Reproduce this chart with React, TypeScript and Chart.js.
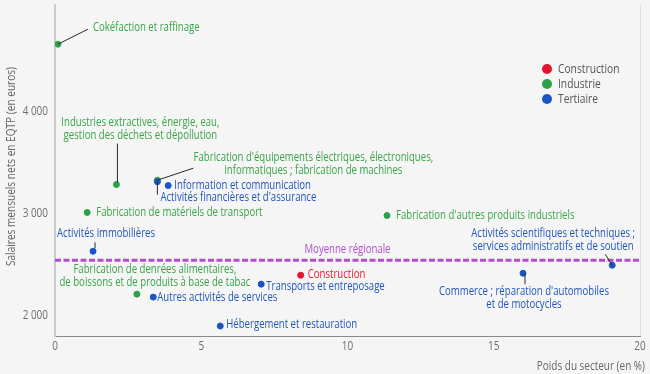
import React, { useEffect, useRef } from "react";
import { Chart, registerables } from "chart.js";

Chart.register(...registerables);

// ---- Data ----
const constructionNames = ["Construction"];
const constructionWeight = [8.4];
const constructionSalary = [2397];

const industrieNames = [
  "Cokéfaction et raffinage",
  "Industries extractives, énergie, eau,\ngestion des déchets et dépollution",
  "Fabrication d'équipements électriques, électroniques,\ninformatiques ; fabrication de machines",
  "Fabrication de matériels de transport",
  "Fabrication de denrées alimentaires,\nde boissons et de produits à base de tabac",
  "Fabrication d'autres produits industriels",
];
const industrieWeight = [0.1, 2.1, 3.5, 1.1, 2.8, 11.35];
const industrieSalary = [4665, 3287, 3330, 3013, 2211, 2983];

const tertiaireNames = [
  "Activités financières et d'assurance",
  "Information et communication",
  "Activités immobilières",
  "Autres activités de services",
  "Hébergement et restauration",
  "Transports et entreposage",
  "Commerce ; réparation d'automobiles\net de motocycles",
  "Activités scientifiques et techniques ;\nservices administratifs et de soutien",
];
const tertiaireWeight = [3.5, 3.87, 1.3, 3.36, 5.65, 7.05, 16.0, 19.05];
const tertiaireSalary = [3315, 3277, 2632, 2182, 1898, 2309, 2416, 2495];

const regionalMean = 2543;
const meanLabel = "Moyenne régionale";
const xTickValues = [0, 5, 10, 15, 20];
const yLabelValues = [2000, 3000, 4000];
const xTitle = "Poids du secteur (en %)";
const yTitle = "Salaires mensuels nets en EQTP (en euros)";
const seriesNames = ["Construction", "Industrie", "Tertiaire"];

// ---- Styles ----
const RED = "#e6132c";
const GREEN = "#2ba24a";
const BLUE = "#1b55c4";
const PURPLE = "#b44ccb";
const TEXT_GREEN = "#39a447";
const TEXT_BLUE = "#2155bd";
const TEXT_RED = "#e8192f";
const GREY_TEXT = "#666666";
const FONT = '"Open Sans", sans-serif';
const SX = 0.8;

type Layout = {
  dx: number;
  dy: number;
  align: "left" | "center" | "right";
  leader?: [number, number, number, number];
};

const labelLayout: Record<string, Layout> = {
  "Cokéfaction et raffinage": { dx: 35, dy: -17, align: "left", leader: [0, 0, 30, -15] },
  "Industries extractives, énergie, eau,\ngestion des déchets et dépollution": {
    dx: 24, dy: -62, align: "center", leader: [1, -2, 1, -41],
  },
  "Fabrication d'équipements électriques, électroniques,\ninformatiques ; fabrication de machines": {
    dx: 156, dy: -23, align: "center", leader: [0, 0, 36, -12],
  },
  "Fabrication de matériels de transport": { dx: 9, dy: 0, align: "left" },
  "Fabrication de denrées alimentaires,\nde boissons et de produits à base de tabac": {
    dx: 18, dy: -25, align: "center",
  },
  "Fabrication d'autres produits industriels": { dx: 9, dy: 0, align: "left" },
  "Activités financières et d'assurance": { dx: 3, dy: 16, align: "left", leader: [0, 0, 0, 13] },
  "Information et communication": { dx: 6, dy: 0, align: "left" },
  "Activités immobilières": { dx: 13, dy: -18, align: "center", leader: [2, -9, 2, -3] },
  "Autres activités de services": { dx: 4, dy: 0, align: "left" },
  "Hébergement et restauration": { dx: 6, dy: -1, align: "left" },
  "Transports et entreposage": { dx: 5, dy: 2, align: "left" },
  "Commerce ; réparation d'automobiles\net de motocycles": {
    dx: 1, dy: 18, align: "center", leader: [2, 0, 2, 11],
  },
  "Activités scientifiques et techniques ;\nservices administratifs et de soutien": {
    dx: -59, dy: -32, align: "center", leader: [-7, -11, 0, 0],
  },
  Construction: { dx: 7, dy: -1, align: "left" },
};

function drawText(
  ctx: CanvasRenderingContext2D,
  text: string,
  x: number,
  y: number,
  align: "left" | "center" | "right",
  color: string,
  size = 12,
  sx = SX
) {
  ctx.save();
  ctx.font = `${size}px ${FONT}`;
  ctx.fillStyle = color;
  ctx.textBaseline = "middle";
  ctx.textAlign = "left";
  const w = ctx.measureText(text).width * sx;
  const left = align === "left" ? x : align === "center" ? x - w / 2 : x - w;
  ctx.translate(left, y);
  ctx.scale(sx, 1);
  ctx.fillText(text, 0, 0);
  ctx.restore();
}

const makePoints = (xs: number[], ys: number[]) => xs.map((x, i) => ({ x, y: ys[i] }));

export default function App() {
  const ref = useRef<HTMLCanvasElement | null>(null);

  useEffect(() => {
    document.body.style.margin = "0";
    const canvas = ref.current!;
    const groups = [
      { names: constructionNames, color: TEXT_RED, ds: 0 },
      { names: industrieNames, color: TEXT_GREEN, ds: 1 },
      { names: tertiaireNames, color: TEXT_BLUE, ds: 2 },
    ];

    const bgPlugin = {
      id: "bg",
      beforeDraw(chart: any) {
        const ctx = chart.ctx;
        ctx.save();
        ctx.fillStyle = "#f5f5f5";
        ctx.fillRect(0, 0, chart.width, chart.height);
        ctx.restore();
      },
    };

    const textPlugin = {
      id: "texts",
      afterDraw(chart: any) {
        const ctx: CanvasRenderingContext2D = chart.ctx;
        const xs = chart.scales.x;
        const ys = chart.scales.y;
        const area = chart.chartArea;

        // y tick labels
        yLabelValues.forEach((v) => {
          drawText(ctx, v.toLocaleString("fr-FR").replace(/\s/g, " "), area.left - 7, ys.getPixelForValue(v), "right", "#6e6e6e", 12, 0.83);
        });
        // x tick labels
        xTickValues.forEach((v) => {
          drawText(ctx, String(v), xs.getPixelForValue(v), area.bottom + 11, "center", "#6e6e6e", 12, 0.83);
        });
        // axis titles
        drawText(ctx, xTitle, area.right + 5, area.bottom + 31, "right", GREY_TEXT, 12, 0.83);
        ctx.save();
        ctx.translate(12, (area.top + area.bottom) / 2 - 4);
        ctx.rotate(-Math.PI / 2);
        drawText(ctx, yTitle, 0, 0, "center", GREY_TEXT, 12, 0.84);
        ctx.restore();

        // mean label
        drawText(ctx, meanLabel, xs.getPixelForValue(10), ys.getPixelForValue(regionalMean) - 11, "center", PURPLE);

        // point labels
        groups.forEach((g) => {
          const meta = chart.getDatasetMeta(g.ds);
          g.names.forEach((name, i) => {
            const el = meta.data[i];
            const lay = labelLayout[name];
            if (!el || !lay) return;
            const px = el.x;
            const py = el.y;
            if (lay.leader) {
              const [x1, y1, x2, y2] = lay.leader;
              ctx.save();
              ctx.strokeStyle = "#2b2b2b";
              ctx.lineWidth = 1;
              ctx.beginPath();
              ctx.moveTo(px + x1, py + y1);
              ctx.lineTo(px + x2, py + y2);
              ctx.stroke();
              ctx.restore();
            }
            const lines = name.split("\n");
            lines.forEach((line, k) => {
              drawText(ctx, line, px + lay.dx, py + lay.dy + k * 13.5, lay.align, g.color);
            });
          });
        });

        // legend
        const legendColors = [RED, GREEN, BLUE];
        seriesNames.forEach((n, i) => {
          const cy = 69 + i * 15;
          ctx.save();
          ctx.fillStyle = legendColors[i];
          ctx.beginPath();
          ctx.arc(547, cy, 5, 0, Math.PI * 2);
          ctx.fill();
          ctx.restore();
          drawText(ctx, n, 558, cy, "left", "#555555", 12.5, 0.82);
        });
      },
    };

    const chart = new Chart(canvas, {
      type: "scatter",
      data: {
        datasets: [
          {
            label: seriesNames[0],
            data: makePoints(constructionWeight, constructionSalary),
            backgroundColor: RED,
            borderColor: RED,
            pointRadius: 3,
            order: 2,
          },
          {
            label: seriesNames[1],
            data: makePoints(industrieWeight, industrieSalary),
            backgroundColor: GREEN,
            borderColor: GREEN,
            pointRadius: 3,
            order: 3,
          },
          {
            label: seriesNames[2],
            data: makePoints(tertiaireWeight, tertiaireSalary),
            backgroundColor: BLUE,
            borderColor: BLUE,
            pointRadius: 3,
            order: 1,
          },
          {
            label: meanLabel,
            data: [
              { x: xTickValues[0], y: regionalMean },
              { x: xTickValues[xTickValues.length - 1], y: regionalMean },
            ],
            showLine: true,
            borderColor: PURPLE,
            borderWidth: 3,
            borderDash: [6, 2.5],
            pointRadius: 0,
            order: 4,
          } as any,
        ],
      },
      options: {
        responsive: false,
        animation: false,
        events: [],
        layout: { padding: { left: 55, right: 10, top: 4, bottom: 38 } },
        plugins: { legend: { display: false }, tooltip: { enabled: false } },
        scales: {
          x: {
            type: "linear",
            min: 0,
            max: 20,
            ticks: { display: false, stepSize: 5 },
            grid: {
              drawTicks: false,
              color: (c: any) => (c.tick && c.tick.value === 20 ? "#dddddd" : "rgba(0,0,0,0)"),
            },
            border: { display: true, color: "#8a8a8a", width: 1 },
          },
          y: {
            type: "linear",
            min: 1800,
            max: 5050,
            ticks: { display: false, stepSize: 500 },
            grid: {
              drawTicks: false,
              color: (c: any) => {
                const v = c.tick ? c.tick.value : 0;
                return v >= 2000 && v <= 4500 && v % 500 === 0 ? "#dedede" : "rgba(0,0,0,0)";
              },
            },
            border: { display: true, color: "#cccccc", width: 2 },
          },
        },
      },
      plugins: [bgPlugin, textPlugin],
    });
    return () => chart.destroy();
  }, []);

  return (
    <div style={{ position: "absolute", left: 0, top: 0, width: 650, height: 374 }}>
      <canvas ref={ref} width={650} height={374} />
    </div>
  );
}
